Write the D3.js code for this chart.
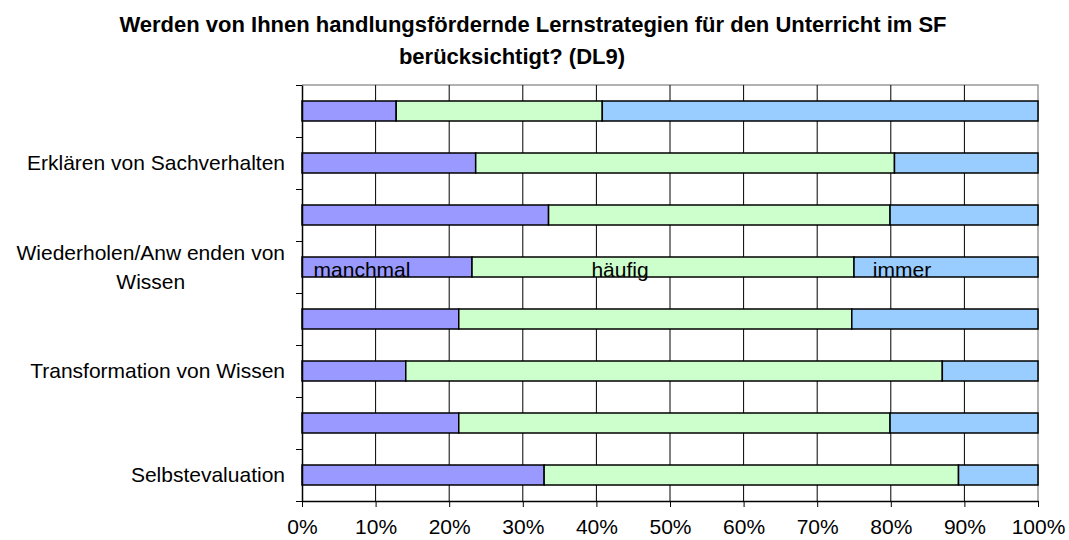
<!DOCTYPE html>
<html>
<head>
<meta charset="utf-8">
<script src="https://cdn.jsdelivr.net/npm/d3@7"></script>
<style>
    body { margin: 0; background: #fff; }
    text { font-family: Arial, "Liberation Sans", sans-serif; fill: #000; }
</style>
</head>
<body>
<svg width="1069" height="540"></svg>
<script>
// Categories from top to bottom; only every second label is shown in the original
const categories = [
    '',
    'Erklären von Sachverhalten',
    '',
    'Wiederholen/Anw enden von\nWissen',
    '',
    'Transformation von Wissen',
    '',
    'Selbstevaluation'
];
const seriesNames = ['manchmal', 'häufig', 'immer'];
const manchmal = [12.8, 23.6, 33.5, 23.1, 21.3, 14.1, 21.3, 32.9];
const haeufig = [28.0, 56.9, 46.4, 51.9, 53.4, 72.9, 58.6, 56.3];
const immer = [59.2, 19.5, 20.1, 25.0, 25.3, 13.0, 20.1, 10.8];
const xTicks = [0, 10, 20, 30, 40, 50, 60, 70, 80, 90, 100];
const titleLines = [
    'Werden von Ihnen handlungsfördernde Lernstrategien für den Unterricht im SF',
    'berücksichtigt? (DL9)'
];
// The series labels sit on this bar only
const labelledBar = 3;

const colors = ['#9999ff', '#ccffcc', '#99ccff'];

const svg = d3.select('svg');
const plotLeft = 302, plotRight = 1038, plotTop = 85, plotBottom = 501;

const rows = categories.map((c, i) => ({
    index: i,
    manchmal: manchmal[i],
    'häufig': haeufig[i],
    immer: immer[i]
}));

const stacked = d3.stack().keys(seriesNames)(rows);

const x = d3.scaleLinear()
    .domain([0, 100])
    .range([plotLeft, plotRight]);

const y = d3.scaleBand()
    .domain(d3.range(categories.length))
    .range([plotTop, plotBottom])
    .paddingInner(32 / 52)
    .paddingOuter(16 / 52);

const yEdge = d3.scaleLinear()
    .domain([0, categories.length])
    .range([plotTop, plotBottom]);

// Title
svg.append('g')
    .selectAll('text')
    .data(titleLines)
    .enter().append('text')
    .attr('x', (d, i) => (i == 0 ? 533 : 512))
    .attr('y', (d, i) => 32 + i * 32)
    .attr('text-anchor', 'middle')
    .style('font-size', '22px')
    .style('font-weight', 'bold')
    .text(d => d);

// Plot frame (top and right in grey)
svg.append('path')
    .attr('d', `M${plotLeft},${plotTop}H${plotRight}V${plotBottom}`)
    .attr('fill', 'none')
    .attr('stroke', '#999')
    .attr('stroke-width', 1.5);

// Vertical grid lines
svg.append('g')
    .selectAll('line')
    .data(xTicks.filter(d => d > 0 && d < 100))
    .enter().append('line')
    .attr('x1', d => x(d))
    .attr('x2', d => x(d))
    .attr('y1', plotTop)
    .attr('y2', plotBottom)
    .attr('stroke', '#000')
    .attr('stroke-width', 1);

// Bars
const layers = svg.append('g')
    .selectAll('g')
    .data(stacked)
    .enter().append('g')
    .attr('fill', (d, i) => colors[i]);

layers.selectAll('rect')
    .data(d => d)
    .enter().append('rect')
    .attr('x', d => x(d[0]))
    .attr('y', d => y(d.data.index))
    .attr('width', d => x(d[1]) - x(d[0]))
    .attr('height', y.bandwidth())
    .attr('stroke', '#000')
    .attr('stroke-width', 1.5);

// Series labels on one bar
const labelShift = [-25, -43, -44];
svg.append('g')
    .selectAll('text')
    .data(stacked)
    .enter().append('text')
    .attr('x', (d, i) => (x(d[labelledBar][0]) + x(d[labelledBar][1])) / 2 + labelShift[i])
    .attr('y', y(labelledBar) + y.bandwidth())
    .attr('text-anchor', 'middle')
    .style('font-size', '21px')
    .text(d => d.key);

// Left axis with ticks between categories
const yAxis = svg.append('g')
    .attr('transform', `translate(${plotLeft},0)`)
    .call(d3.axisLeft(yEdge)
        .ticks(categories.length)
        .tickFormat('')
        .tickSize(6)
        .tickSizeOuter(0));
yAxis.select('.domain').attr('stroke-width', 1.5);

// Bottom axis
const xAxis = svg.append('g')
    .attr('transform', `translate(0,${plotBottom})`)
    .call(d3.axisBottom(x)
        .tickValues(xTicks)
        .tickFormat(d => d + '%')
        .tickSize(6)
        .tickSizeOuter(0)
        .tickPadding(12));
xAxis.select('.domain').attr('stroke-width', 1.5);
xAxis.selectAll('text')
    .style('font-size', '21px')
    .style('font-family', 'Arial, "Liberation Sans", sans-serif');

// Category labels
svg.append('g')
    .selectAll('text')
    .data(categories)
    .enter().append('text')
    .style('font-size', '21px')
    .each(function(d, i)
    {
        const lines = d.split('\n');
        const t = d3.select(this);
        const cy = y(i) + y.bandwidth() / 2;
        lines.forEach((line, k) =>
        {
            t.append('tspan')
                .attr('y', cy + (k - (lines.length - 1) / 2) * 29)
                .attr('dy', '0.35em')
                .text(line);
        });
        // centre the lines of a block, right aligned against the axis
        const widths = [];
        t.selectAll('tspan').each(function() { widths.push(this.getComputedTextLength()); });
        const maxW = d3.max(widths) || 0;
        t.attr('text-anchor', 'middle')
            .selectAll('tspan')
            .attr('x', 285 - maxW / 2);
    });
</script>
</body>
</html>
